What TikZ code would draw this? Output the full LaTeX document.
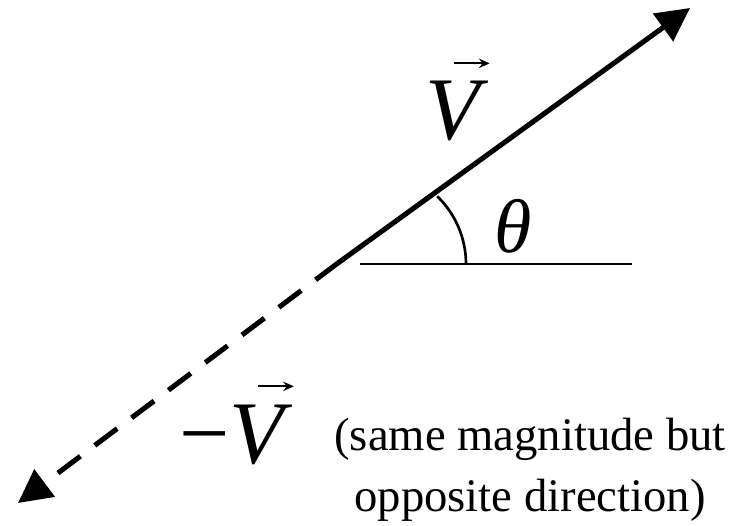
\documentclass[tikz,border=0pt]{standalone}
\usepackage{fontspec}
\setmainfont{Liberation Serif}
\usetikzlibrary{arrows.meta}
% italic letter with an arrow accent on top
\newcommand{\vecsym}[1]{\ooalign{#1\cr\hidewidth\kern22pt\raisebox{54pt}{\tikz\draw[line width=1.4pt,-{Stealth[length=8pt,width=7pt]}] (0pt,0pt)--(27pt,0pt);}\hidewidth\cr}}
\tikzset{
  vecline/.style={line width=3.8pt,-{Triangle[length=25pt,width=25pt]}},
  negline/.style={vecline,dash pattern=on 21pt off 13.5pt},
  thinline/.style={line width=2pt},
  biglabel/.style={font=\fontsize{67}{70}\selectfont,inner sep=0pt,anchor=base},
}
\begin{document}
\begin{tikzpicture}[x=0.75pt,y=0.75pt]
  \useasboundingbox (0,0) rectangle (738,525);
  \coordinate (O) at (338,262);
  \coordinate (tip) at (690,517);
  \coordinate (negtip) at (18,22);
  \coordinate (hstart) at (360,261);
  \coordinate (hend) at (632,261);
  \coordinate (arcstart) at (466,261);
  % vector and its negative
  \draw[vecline] (O) -- (tip);
  \draw[negline] (O) -- (negtip);
  % reference line and angle
  \draw[thinline] (hstart) -- (hend);
  \draw[thinline] (arcstart) arc[start angle=0,end angle=46,radius=94];
  \node[biglabel] (V) at (457,385) {\vecsym{\textit{V}}};
  \node[biglabel] (negV) at (236,62) {−\vecsym{\textit{V}}};
  \node[font=\fontsize{57}{60}\selectfont,inner sep=0pt] (theta) at (513,299) {\textit{θ}};
  \node[font=\fontsize{35}{40.5}\selectfont,align=center,anchor=base] (note) at (530,14)
    {(same magnitude but\\[5pt]opposite direction)};
\end{tikzpicture}
\end{document}
